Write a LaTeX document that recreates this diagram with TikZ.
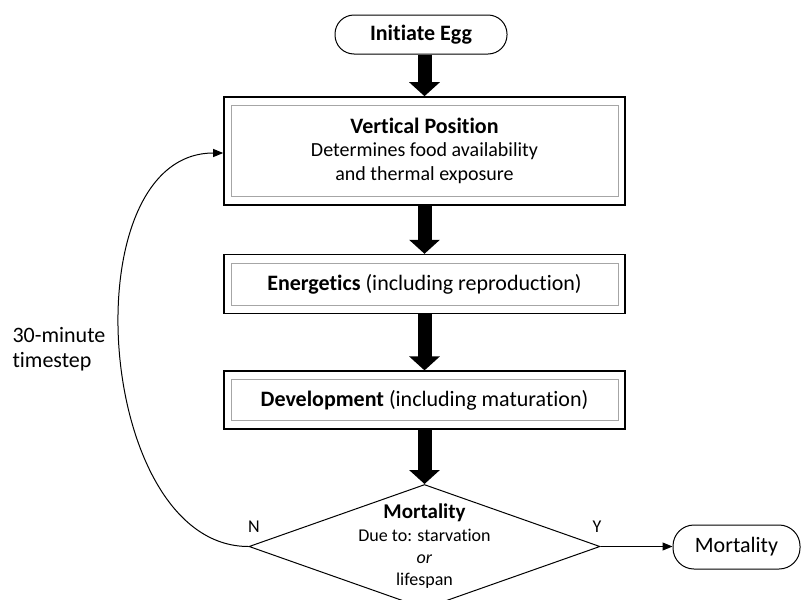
\documentclass[tikz,border=0pt]{standalone}
\usepackage{fontspec}
\setmainfont{Carlito}[Ligatures=NoCommon]
\usetikzlibrary{positioning}
\usetikzlibrary{shapes.geometric}
\usetikzlibrary{arrows.meta}
\tikzset{end node/.style={draw,line width=1pt,rounded corners=19pt,minimum height=39pt,inner sep=0pt,font=\fontsize{22}{26}\selectfont},
proc node/.style={draw,line width=1.6pt,minimum width=401pt,inner sep=0pt,align=center,font=\fontsize{22}{26}\selectfont,
  path picture={\draw[gray!70,line width=0.8pt] ([shift={(7pt,-8.5pt)}]path picture bounding box.north west) rectangle ([shift={(-7pt,8.5pt)}]path picture bounding box.south east);}},
test node/.style={diamond,draw,line width=1pt,minimum width=351pt,minimum height=124pt,inner sep=0pt},
big arrow/.style={line width=14pt,-{Triangle[length=14pt,width=30pt]}},
}

\begin{document}
\begin{tikzpicture}[x=1pt,y=-1pt]
	\useasboundingbox (0,0) rectangle (801,600);

    \node[end node,minimum width=172pt] (1) at (421,34.5) {\textbf{Initiate Egg}};
    \node[proc node,minimum height=108pt,font=\fontsize{20}{24.5}\selectfont] (2) at (424.5,151) {\raisebox{-2pt}{\fontsize{22}{26}\selectfont\textbf{Vertical Position}}\\Determines food availability\\and thermal exposure};
    \node[proc node,minimum height=59pt] (3) [below = 48pt of 2] {\textbf{Energetics} (including reproduction)};
    \node[proc node,minimum height=58pt] (4) [below = 56pt of 3] {\textbf{Development} (including maturation)};
    \node[test node,label={[align=center,font=\fontsize{18}{22.3}\selectfont]center:{\fontsize{21}{22.3}\selectfont\textbf{Mortality}\\Due to: starvation\\\textit{or}\\lifespan}}] (5) [below = 54pt of 4] {};
    \node[end node,minimum width=127pt,minimum height=44pt,rounded corners=21pt] (6) at (736.5,547) {Mortality};
    \node[anchor=west,align=left,font=\fontsize{22}{25.5}\selectfont] (7) at (9,349) {30-minute\\timestep};
    \node[font=\fontsize{18}{20}\selectfont] (8) at (254,527) {N};
    \node[font=\fontsize{18}{20}\selectfont] (9) at (597,527) {Y};

    \draw[big arrow] (1.south -| 2.north) -- (2.north);
    \draw[big arrow] (2) -- (3);
    \draw[big arrow] (3) -- (4);
    \draw[big arrow] (4) -- (5);

    \draw[line width=1pt,-{Triangle[length=10pt,width=8pt]}] (5.east) -- (5.east -| 6.west);
    \draw[line width=1pt,-{Triangle[length=10pt,width=8pt]}] (5.west) to[out=180,in=180,looseness=1] ([yshift=-2pt]2.west);
    
\end{tikzpicture}
\end{document}
